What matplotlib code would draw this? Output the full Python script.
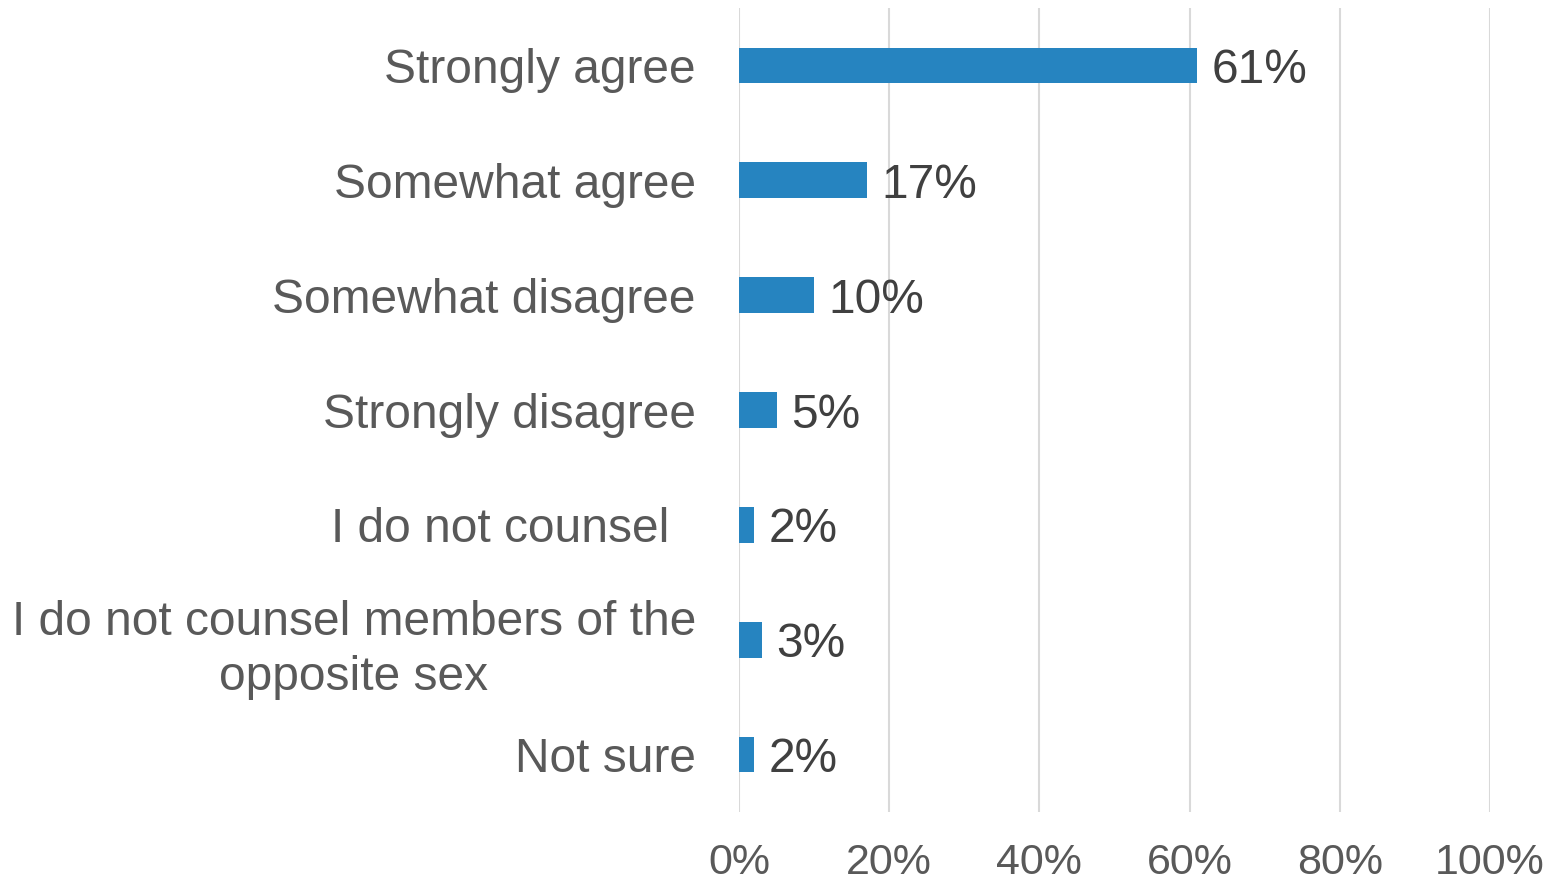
import matplotlib
matplotlib.use("Agg")
import matplotlib.pyplot as plt
from matplotlib.ticker import PercentFormatter

# Datos del grafico
categories = [
    "Strongly agree",
    "Somewhat agree",
    "Somewhat disagree",
    "Strongly disagree",
    "I do not counsel  ",
    "I do not counsel members of the\nopposite sex",
    "Not sure",
]
values = [61, 17, 10, 5, 2, 3, 2]
xticks = [0, 20, 40, 60, 80, 100]

plt.rcParams['font.family'] = ['Liberation Sans', 'DejaVu Sans']

fig = plt.figure(figsize=(15.55, 8.8), dpi=100)
ax = fig.add_axes([739 / 1555, 1 - 812 / 880, 751 / 1555, 804 / 880])

y = list(range(len(categories)))
ax.barh(y, values, height=0.31, color='#2684C0', zorder=3)

# Etiquetas de valores
for yi, v in zip(y, values):
    ax.text(v + 1.9, yi, f"{v}%", va='center_baseline', ha='left',
            fontsize=34.5, color='#404040', zorder=4)

ax.set_xlim(0, 100)
ax.set_ylim(len(categories) - 0.5, -0.5)
ax.set_xticks(xticks)
ax.xaxis.set_major_formatter(PercentFormatter(decimals=0))
ax.set_yticks(y)
ax.set_yticklabels(categories, multialignment='center', linespacing=1.3)

ax.tick_params(axis='x', length=0, pad=22, labelsize=31, labelcolor='#595959')
ax.tick_params(axis='y', length=0, pad=31, labelsize=34.5, labelcolor='#595959')

ax.grid(axis='x', color='#D9D9D9', linewidth=1.5, zorder=0)
for s in ax.spines.values():
    s.set_visible(False)

fig.savefig("out.png", dpi=100)
